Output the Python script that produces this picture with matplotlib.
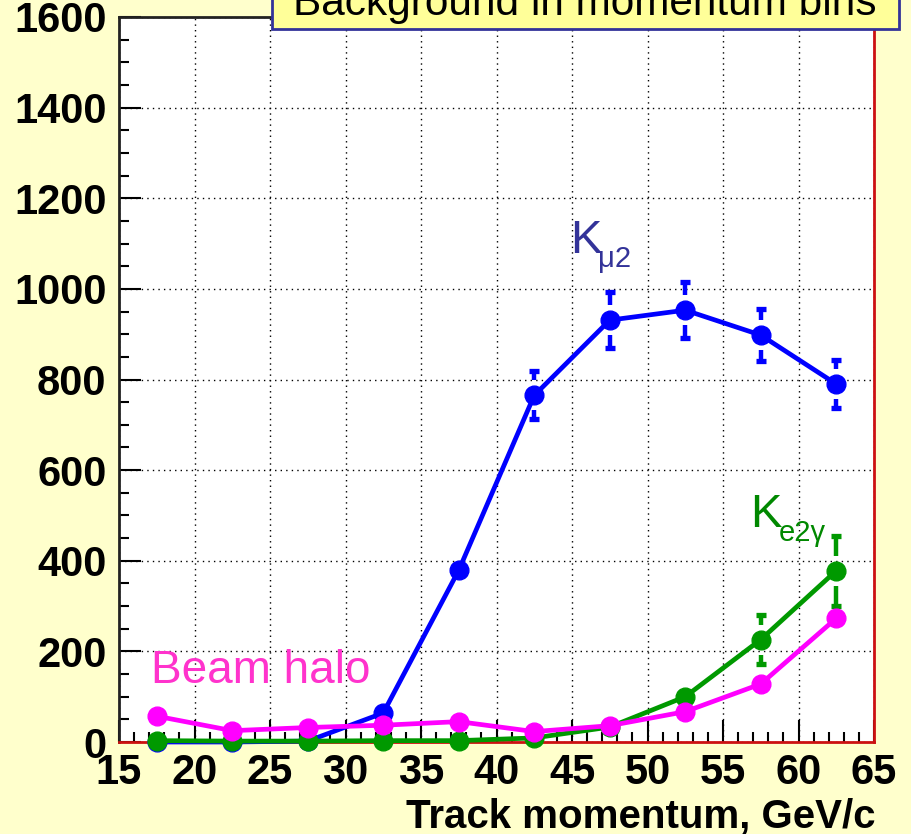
import numpy as np
import matplotlib.pyplot as plt
from matplotlib.patches import Rectangle

# bin centres of the track momentum histogram (GeV/c)
momentum = [17.5, 22.5, 27.5, 32.5, 37.5, 42.5, 47.5, 52.5, 57.5, 62.5]

# K_mu2 background
kmu2 = [0, 0, 2, 64, 379, 765, 931, 953, 898, 790]
kmu2_err = [0, 0, 0, 8, 20, 53, 62, 62, 58, 52]

# K_e2gamma background
ke2g = [3, 2, 2, 3, 3, 9, 33, 100, 226, 378]
ke2g_err = [0, 0, 0, 0, 0, 2, 5, 12, 54, 77]

# beam halo background
halo = [57, 25, 32, 37, 45, 23, 36, 67, 128, 273]

x_ticks = [15, 20, 25, 30, 35, 40, 45, 50, 55, 60, 65]
y_ticks = [0, 200, 400, 600, 800, 1000, 1200, 1400, 1600]

BG = "#ffffcc"
FONT = "Liberation Sans"


def draw_series(ax, x, y, err, color, gap=33):
    ax.plot(x, y, color=color, lw=3.4, marker="o", ms=13.5, zorder=3, clip_on=False)
    if err is None:
        return
    for xi, yi, ei in zip(x, y, err):
        if ei <= gap:
            continue
        ax.vlines(xi, yi + gap, yi + ei, color=color, lw=3.2, zorder=3)
        ax.vlines(xi, yi - ei, yi - gap, color=color, lw=3.2, zorder=3)
        ax.plot([xi, xi], [yi + ei, yi - ei], ls="none", marker="_",
                ms=7, mew=3.8, color=color, zorder=3)


fig = plt.figure(figsize=(9.11, 8.34), dpi=100, facecolor=BG)
ax = fig.add_axes([119 / 911, 1 - 742 / 834, 755 / 911, 725 / 834])
ax.set_facecolor("white")

draw_series(ax, momentum, kmu2, kmu2_err, "#0000ff")
draw_series(ax, momentum, ke2g, ke2g_err, "#009900")
draw_series(ax, momentum, halo, None, "#ff00ff")

ax.set_xlim(15, 65)
ax.set_ylim(0, 1600)
ax.set_xticks(x_ticks)
ax.set_yticks(y_ticks)
ax.set_xticks(np.arange(15, 66, 1), minor=True)
ax.set_yticks(np.arange(0, 1601, 50), minor=True)
ax.grid(True, which="major", color="black", ls=(0, (1, 3)), lw=1)
ax.set_axisbelow(True)

ax.tick_params(which="both", direction="in", top=False, right=False, width=1.5)
ax.tick_params(which="major", length=16)
ax.tick_params(which="minor", length=7)
ax.tick_params(axis="x", pad=8)
ax.tick_params(axis="y", pad=9)
for lab in ax.get_xticklabels() + ax.get_yticklabels():
    lab.set_fontfamily(FONT)
    lab.set_fontweight("bold")
    lab.set_fontsize(30)

for side in ["left", "top"]:
    ax.spines[side].set_linewidth(2)
    ax.spines[side].set_color("#222222")
for side in ["bottom", "right"]:
    ax.spines[side].set_linewidth(2)
    ax.spines[side].set_color("#cc1111")

fig.text(875 / 911, 1 - 827 / 834, "Track momentum, GeV/c", ha="right", va="baseline",
         fontfamily=FONT, fontweight="bold", fontsize=29)

# labels for each background source
ax.text(44.85, 1079, "K", color="#333399", fontsize=34, fontfamily=FONT,
        va="baseline", ha="left")
ax.annotate("\u03bc2", xy=(44.85, 1079), xytext=(20.5, -10), textcoords="offset points",
            color="#333399", fontsize=21, fontfamily=FONT, va="baseline", ha="left")

ax.text(56.8, 474, "K", color="#008800", fontsize=34, fontfamily=FONT,
        va="baseline", ha="left")
ax.annotate("e2\u03b3", xy=(56.8, 474), xytext=(20.5, -10), textcoords="offset points",
            color="#008800", fontsize=21, fontfamily=FONT, va="baseline", ha="left")

ax.text(17.1, 130, "Beam halo", color="#ff33cc", fontsize=33, fontfamily=FONT,
        va="baseline", ha="left")

# title box, partly cut by the top of the canvas
fig.patches.append(Rectangle((272 / 911, 1 - 29 / 834), 627 / 911, 0.1,
                             transform=fig.transFigure, facecolor="#ffff99",
                             edgecolor="#333399", lw=2, zorder=5))
fig.text(293 / 911, 1 - 15 / 834, "Background in momentum bins", ha="left",
         va="baseline", fontsize=30.5, fontfamily=FONT, zorder=6)

fig.savefig("out.png", dpi=100, facecolor=BG)
